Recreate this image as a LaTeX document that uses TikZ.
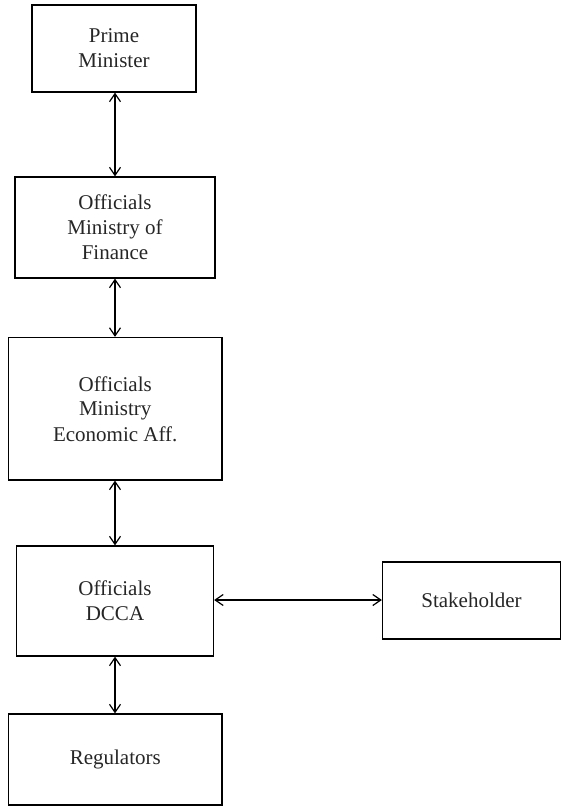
\documentclass[tikz,border=0pt]{standalone}
\usepackage{fontspec}
\setmainfont{Liberation Serif}
\usetikzlibrary{arrows.meta}
\begin{document}
\begin{tikzpicture}[x=1pt,y=-1pt,
  box/.style={draw, line width=1.3pt, align=center, inner sep=0pt,
    font=\fontsize{21pt}{25pt}\selectfont, text=black!85},
  link/.style={line width=1.2pt, {Straight Barb[length=8pt,width=11pt]}-{Straight Barb[length=8pt,width=11pt]}}]
\useasboundingbox (0,0) rectangle (562,808);
\node[box, minimum width=164pt, minimum height=87pt] (pm) at (114,48.5) {Prime\\Minister};
\node[box, minimum width=200pt, minimum height=101pt] (fin) at (115,227.5) {Officials\\Ministry of\\Finance};
\node[box, minimum width=213.5pt, minimum height=142.5pt] (ea) at (115.25,408.75) {Officials\\Ministry\\Economic Aff.};
\node[box, minimum width=197pt, minimum height=110pt] (dcca) at (115,601) {Officials\\DCCA};
\node[box, minimum width=178pt, minimum height=77pt] (stk) at (471.5,600.5) {Stakeholder};
\node[box, minimum width=213.5pt, minimum height=91pt] (reg) at (115.25,759.5) {Regulators};
\coordinate (ax) at (115,0);
\coordinate (ay) at (0,600);
\draw[link] (pm.south -| ax) -- (fin.north -| ax);
\draw[link] (fin.south -| ax) -- (ea.north -| ax);
\draw[link] (ea.south -| ax) -- (dcca.north -| ax);
\draw[link] (dcca.south -| ax) -- (reg.north -| ax);
\draw[link] (dcca.east |- ay) -- (stk.west |- ay);
\end{tikzpicture}
\end{document}
